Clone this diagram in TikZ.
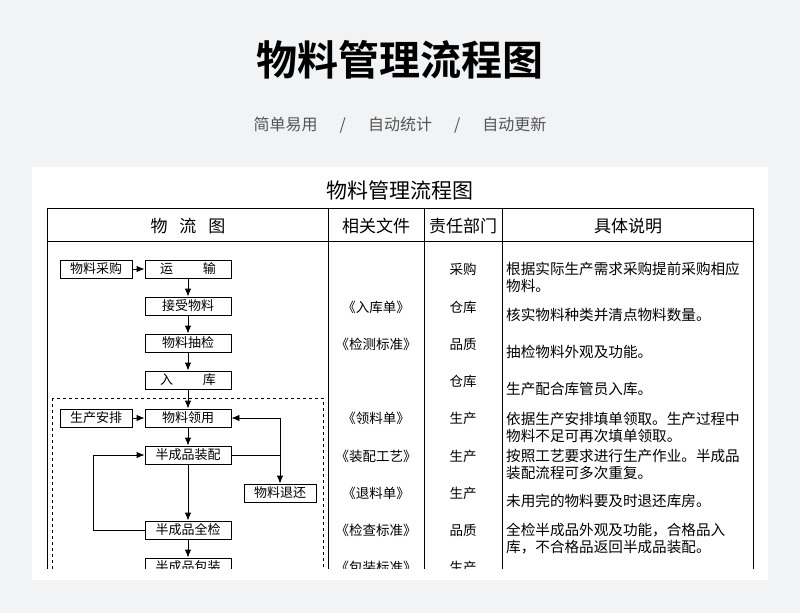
\documentclass[tikz,border=0pt]{standalone}
\usepackage{fontspec}
\setmainfont{Noto Sans CJK SC}
\newfontfamily\cjkb{Noto Sans CJK SC Bold}
\usetikzlibrary{arrows.meta}
\definecolor{pagebg}{HTML}{F2F3F5}
\definecolor{subgray}{HTML}{555555}
\begin{document}
\begin{tikzpicture}[x=1pt,y=-1pt,
  fbox/.style={draw,line width=0.9pt,minimum width=86pt,minimum height=18pt,inner sep=0pt,font=\fontsize{13}{13}\selectfont},
  sbox/.style={fbox,minimum width=72pt},
  arr/.style={-{Latex[length=8pt,width=6.5pt]},line width=0.9pt},
  txt/.style={font=\fontsize{13.5}{13.5}\selectfont,inner sep=0pt},
  desc/.style={font=\fontsize{14.6}{17}\selectfont,inner sep=0pt,anchor=north west,align=left}]
\useasboundingbox (0,0) rectangle (800,613);
\fill[pagebg] (0,0) rectangle (800,613);
\node[font=\cjkb\fontsize{41}{41}\selectfont] (title) at (400,60) {物料管理流程图};
\node[font=\fontsize{16}{16}\selectfont,text=subgray] (sub) at (400,125) {简单易用\hspace{22pt}/\hspace{22pt}自动统计\hspace{22pt}/\hspace{22pt}自动更新};
\fill[white] (32,167) rectangle (768,580);
\begin{scope}
\clip (32,167) rectangle (768,568);
\node[font=\fontsize{21}{21}\selectfont] (ttl) at (400,190) {物料管理流程图};
\draw[line width=1pt] (47,208) rectangle (753,600);
\draw[line width=1pt] (47,241) -- (753,241);
\foreach \x in {328,424,502} \draw[line width=1pt] (\x,208) -- (\x,600);
\node[font=\fontsize{17}{17}\selectfont] (h1) at (188,226) {物\hspace{12pt}流\hspace{12pt}图};
\node[font=\fontsize{17}{17}\selectfont] (h2) at (376,226) {相关文件};
\node[font=\fontsize{17}{17}\selectfont] (h3) at (463,226) {责任部门};
\node[font=\fontsize{17}{17}\selectfont] (h4) at (628,226) {具体说明};
% flow
\node[fbox] (ys) at (188,269) {运\hspace{30pt}输};
\node[sbox] (cg) at (96,269) {物料采购};
\node[fbox] (js) at (188,306) {接受物料};
\node[fbox] (cj) at (188,343) {物料抽检};
\node[fbox] (rk) at (188,380) {入\hspace{30pt}库};
\node[fbox] (ly) at (188,418) {物料领用};
\node[sbox] (ap) at (96,418) {生产安排};
\node[fbox] (zp) at (188,455) {半成品装配};
\node[sbox] (th) at (280,493) {物料退还};
\node[fbox] (qj) at (188,530) {半成品全检};
\node[fbox] (bz) at (188,567) {半成品包装};
\draw[dashed,line width=0.8pt] (52,398) rectangle (323,620);
\draw[arr] (cg) -- (ys);
\draw[arr] (ys) -- (js);
\draw[arr] (js) -- (cj);
\draw[arr] (cj) -- (rk);
\draw[arr] (rk) -- (ly);
\draw[arr] (ap) -- (ly);
\draw[arr] (ly) -- (zp);
\draw[arr] (zp) -- (qj);
\draw[arr] (qj) -- (bz);
\draw[arr] (qj.west) -- (93,530) -- (93,455) -- (zp.west);
\draw[arr] (zp.east) -- (280,455) -- (th.north);
\draw[arr] (280,455) -- (280,418) -- (ly.east);
% columns
\foreach \y/\f/\d in {269//采购,307/《入库单》/仓库,344/《检测标准》/品质,381//仓库,418/《领料单》/生产,456/《装配工艺》/生产,493/《退料单》/生产,530/《检查标准》/品质,567/《包装标准》/生产}{
  \node[txt] at (376,\y) {\f};
  \node[txt] at (463,\y) {\d};
}
\node[desc] (d1) at (506,262) {根据实际生产需求采购提前采购相应\\物料。};
\node[desc] (d2) at (506,308) {核实物料种类并清点物料数量。};
\node[desc] (d3) at (506,345) {抽检物料外观及功能。};
\node[desc] (d4) at (506,382) {生产配合库管员入库。};
\node[desc] (d5) at (506,412) {依据生产安排填单领取。生产过程中\\物料不足可再次填单领取。};
\node[desc] (d6) at (506,449) {按照工艺要求进行生产作业。半成品\\装配流程可多次重复。};
\node[desc] (d7) at (506,494) {未用完的物料要及时退还库房。};
\node[desc] (d8) at (506,523) {全检半成品外观及功能，合格品入\\库，不合格品返回半成品装配。};
\end{scope}
\end{tikzpicture}
\end{document}
